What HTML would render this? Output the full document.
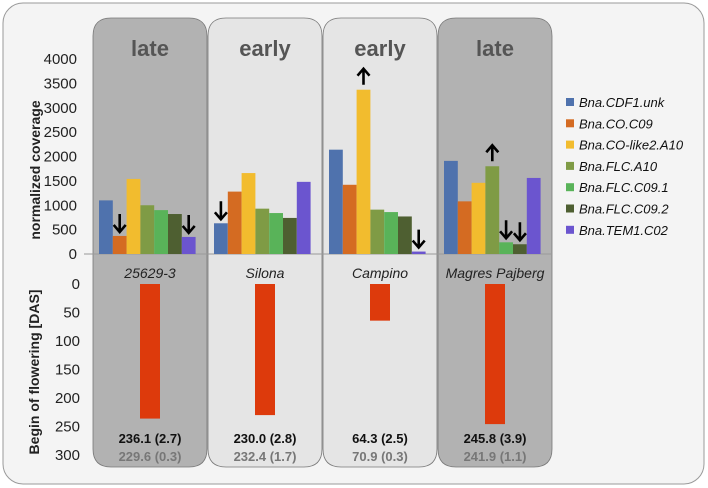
<!DOCTYPE html>
<html><head><meta charset="utf-8"><style>
html,body{margin:0;padding:0;background:#fff;}
svg{display:block;font-family:"Liberation Sans",sans-serif;}
</style></head><body>
<svg id="c" width="708" height="488" viewBox="0 0 708 488">
<rect x="3" y="3" width="701" height="481" rx="20" fill="#f4f4f4" stroke="#9a9a9a" stroke-width="1"/>
<g id="panels"></g>
<g id="top"></g>
<g id="bottom"></g>
<g id="legend"></g>
<text transform="translate(40,170) rotate(-90)" text-anchor="middle" font-size="14" font-weight="bold" fill="#222">normalized coverage</text>
<text transform="translate(39,372) rotate(-90)" text-anchor="middle" font-size="14" font-weight="bold" fill="#222">Begin of flowering [DAS]</text>
</svg>
<script>
const cultivars=["25629-3","Silona","Campino","Magres Pajberg"];
const phenotypes=["late","early","early","late"];
const genes=["Bna.CDF1.unk","Bna.CO.C09","Bna.CO-like2.A10","Bna.FLC.A10","Bna.FLC.C09.1","Bna.FLC.C09.2","Bna.TEM1.C02"];
const geneColors=["#4f72ad","#d46b22","#f2bc2e","#7f9b45","#59b359","#4e5f31","#6b55cf"];
const cov0=[1100,370,1540,1000,900,820,350];
const cov1=[630,1280,1660,930,840,740,1480];
const cov2=[2140,1420,3370,910,860,770,50];
const cov3=[1910,1080,1460,1800,240,200,1560];
const coverage=[cov0,cov1,cov2,cov3];
const arrows=[[0,1,"down"],[0,6,"down"],[1,0,"down"],[2,2,"up"],[2,6,"down"],[3,3,"up"],[3,4,"down"],[3,5,"down"]];
const flowering=[236.1,230.0,64.3,245.8];
const flowLabel1=["236.1 (2.7)","230.0 (2.8)","64.3 (2.5)","245.8 (3.9)"];
const flowLabel2=["229.6 (0.3)","232.4 (1.7)","70.9 (0.3)","241.9 (1.1)"];
const topTicks=[0,500,1000,1500,2000,2500,3000,3500,4000];
const botTicks=[0,50,100,150,200,250,300];

const NS="http://www.w3.org/2000/svg";
function mk(parent,tag,attrs,text){const e=document.createElementNS(NS,tag);for(const k in attrs)e.setAttribute(k,attrs[k]);if(text!==undefined)e.textContent=text;parent.appendChild(e);return e;}
const yTop=v=>254-v*(195/4000);
const yBot=v=>284+v*(171/300);
const panelX=i=>93+i*115;
const PW=114;

const gp=document.getElementById('panels');
cultivars.forEach((c,i)=>{
  const x=panelX(i),y=18,h=449,r=18,w=PW;
  const p=mk(gp,'path',{d:`M${x},${y+r} Q${x},${y} ${x+r},${y} L${x+w-r},${y} Q${x+w},${y} ${x+w},${y+r} L${x+w},${y+h-r} Q${x+w},${y+h} ${x+w-r},${y+h} L${x+r},${y+h} Q${x},${y+h} ${x},${y+h-r} Z`,fill:phenotypes[i]==="late"?"#b2b2b2":"#e5e5e5",stroke:"#777","stroke-width":0.8});
  
  
  const t=mk(gp,'text',{x:x+w/2,y:56,'text-anchor':'middle','font-size':22,'font-weight':'bold',fill:'#555'},phenotypes[i]);
  
  
  const n=mk(gp,'text',{x:x+w/2,y:278,'text-anchor':'middle','font-size':14,'font-style':'italic',fill:'#222'},c);
  
  
});

const gt=document.getElementById('top');
const ax=mk(gt,'line',{x1:84,x2:552,y1:254,y2:254,stroke:'#999','stroke-width':1});


topTicks.forEach(v=>{
  const t=mk(gt,'text',{x:77,y:yTop(v)+5,'text-anchor':'end','font-size':15,fill:'#222'},String(v));
  
  
});
const BW=13.8;
coverage.forEach((vals,i)=>{
  vals.forEach((v,j)=>{
    const x=panelX(i)+6+j*BW;
    const b=mk(gt,'rect',{x:x,y:yTop(v),width:BW,height:254-yTop(v),fill:geneColors[j]});
    
    
  });
});
arrows.forEach(([i,j,dir])=>{
  const cx=panelX(i)+6+j*BW+BW/2;
  const top=yTop(coverage[i][j]);
  let d;
  if(dir==="down"){const y2=top-4,y1=y2-18;d=`M${cx},${y1} L${cx},${y2} M${cx-6},${y2-7} L${cx},${y2} L${cx+6},${y2-7}`;}
  else{const y1=top-5,y2=y1-16;d=`M${cx},${y1} L${cx},${y2} M${cx-6},${y2+7} L${cx},${y2} L${cx+6},${y2+7}`;}
  const a=mk(gt,'path',{d:d,stroke:'#000','stroke-width':2.6,fill:'none'});
  
  
});

const gb=document.getElementById('bottom');
botTicks.forEach(v=>{
  const t=mk(gb,'text',{x:80,y:yBot(v)+5,'text-anchor':'end','font-size':15,fill:'#222'},String(v));
  
  
});
flowering.forEach((v,i)=>{
  const cx=panelX(i)+PW/2;
  const b=mk(gb,'rect',{x:cx-10,y:yBot(0),width:20,height:yBot(v)-yBot(0),fill:'#dd3a0c'});
  
  
  const l1=mk(gb,'text',{x:cx,y:443,'text-anchor':'middle','font-size':13,'font-weight':'bold',fill:'#111'},flowLabel1[i]);
  
  
  const l2=mk(gb,'text',{x:cx,y:461,'text-anchor':'middle','font-size':13,'font-weight':'bold',fill:'#777'},flowLabel2[i]);
  
  
});

const gl=document.getElementById('legend');
genes.forEach((g,j)=>{
  const y=103+j*21.3;
  const s=mk(gl,'rect',{x:566,y:y-5,width:8,height:8,fill:geneColors[j]});
  
  
  const t=mk(gl,'text',{x:579,y:y+4,'font-size':13,'font-style':'italic',fill:'#111'},g);
  
  
});
</script>
</body></html>
